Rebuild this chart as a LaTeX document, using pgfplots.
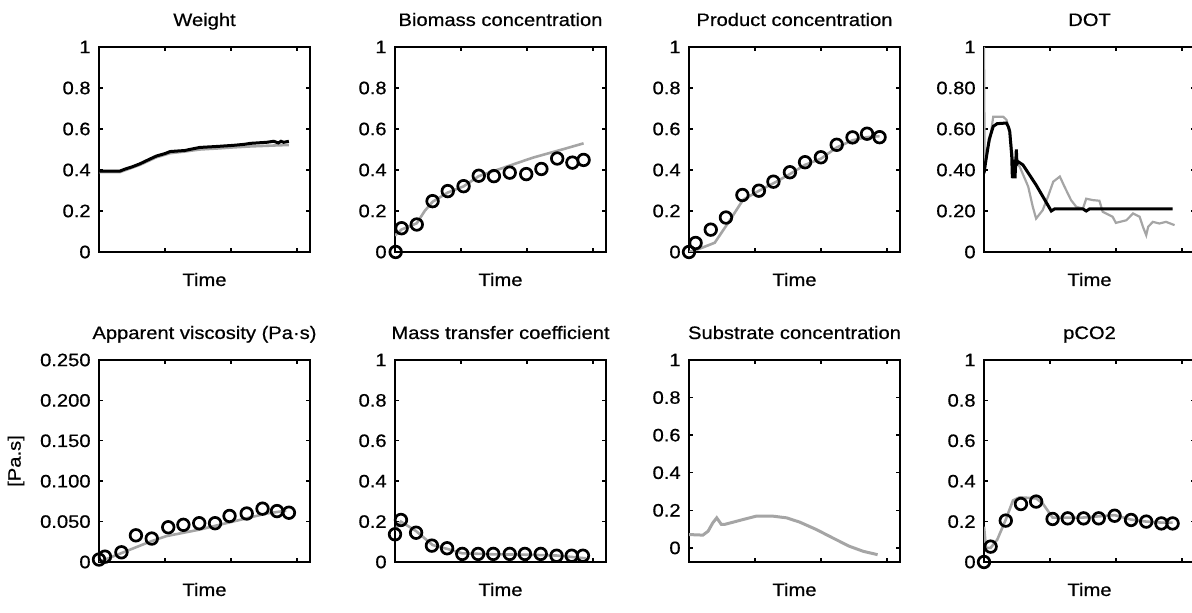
\documentclass[border=0pt]{standalone}
\usepackage{pgfplots}
\pgfplotsset{compat=1.18}
\usepackage{fontspec}
\setmainfont{Liberation Sans}[FakeStretch=1.12, FakeBold=0.6]
\definecolor{lg}{RGB}{165,165,165}
\pgfplotsset{
 base/.style={
  scale only axis, width=105.5pt,
  xmin=0, xmax=3.2, xtick={1,2,3}, xticklabels={},
  ymin=0, ymax=1, ytick={0,0.2,0.4,0.6,0.8,1}, yticklabels={0,0.2,0.4,0.6,0.8,1},
  tick align=inside, major tick length=2pt,
  axis line style={line width=0.9pt},
  every tick/.style={black, line width=0.7pt},
  tick label style={font=\fontsize{9}{10}\selectfont},
  title style={font=\fontsize{9}{10}\selectfont, at={(0.5,1)}, anchor=base, yshift=4.5pt, inner sep=0pt},
  xlabel=Time,
  label style={font=\fontsize{9}{10}\selectfont},
  xlabel style={at={(0.5,0)}, anchor=base, yshift=-17pt, inner sep=0pt},
  yticklabel style={inner sep=0pt, xshift=-4pt},
  clip mode=individual,
 },
 r1/.style={base, height=102.5pt},
 r2/.style={base, height=101pt},
 gline/.style={lg, line width=1.3pt, no markers},
 bline/.style={black, line width=1.5pt, no markers},
 mk/.style={only marks, mark=o, mark size=2.9pt, mark options={black, line width=1.35pt}},
}
\begin{document}
\begin{tikzpicture}
% ---------- Row 1 ----------
\begin{axis}[r1, at={(49.5pt,180.5pt)}, anchor=south west, title={Weight}]
\addplot[gline] coordinates {(0,0.39) (0.32,0.39) (0.45,0.405) (0.62,0.425) (0.87,0.462) (1.08,0.482) (1.3,0.49) (1.53,0.5) (1.8,0.505) (2.03,0.51) (2.3,0.515) (2.54,0.518) (2.7,0.52) (2.88,0.522)};
\addplot[bline] coordinates {(0,0.395) (0.32,0.395) (0.4,0.405) (0.5,0.415) (0.62,0.43) (0.75,0.45) (0.87,0.468) (1.0,0.48) (1.08,0.49) (1.3,0.495) (1.45,0.505) (1.53,0.51) (1.8,0.515) (2.03,0.52) (2.2,0.525) (2.3,0.53) (2.54,0.535) (2.65,0.54) (2.72,0.532) (2.76,0.54) (2.8,0.535) (2.88,0.54)};
\end{axis}
\begin{axis}[r1, at={(197.5pt,180.5pt)}, anchor=south west, title={Biomass concentration}]
\addplot[gline] coordinates {(0,0.08) (0.1,0.11) (0.33,0.14) (0.45,0.2) (0.57,0.245) (0.8,0.29) (1.04,0.32) (1.27,0.37) (1.59,0.405) (2.09,0.46) (2.59,0.505) (2.86,0.53)};
\addplot[mk] coordinates {(0.01,0) (0.10,0.116) (0.33,0.134) (0.57,0.248) (0.80,0.297) (1.04,0.321) (1.27,0.372) (1.50,0.370) (1.74,0.387) (1.99,0.380) (2.22,0.405) (2.46,0.456) (2.69,0.436) (2.86,0.449)};
\end{axis}
\begin{axis}[r1, at={(344.5pt,180.5pt)}, anchor=south west, title={Product concentration}]
\addplot[gline] coordinates {(0,0) (0.16,0.016) (0.39,0.045) (0.62,0.155) (0.82,0.255) (1.07,0.3) (1.28,0.335) (1.53,0.38) (1.76,0.425) (2.0,0.455) (2.24,0.51) (2.48,0.545) (2.7,0.56) (2.89,0.565)};
\addplot[mk] coordinates {(0,0) (0.10,0.044) (0.33,0.109) (0.56,0.168) (0.81,0.278) (1.06,0.299) (1.28,0.343) (1.53,0.389) (1.76,0.438) (2.00,0.462) (2.24,0.523) (2.48,0.559) (2.70,0.577) (2.89,0.560)};
\end{axis}
\begin{axis}[r1, at={(492pt,180.5pt)}, anchor=south west, title={DOT}, yticklabels={0,0.20,0.40,0.60,0.80,1}]
\addplot[gline, line width=1.1pt] coordinates {(0,1.0) (0.01,0.45) (0.03,0.48) (0.09,0.547) (0.14,0.66) (0.29,0.66) (0.34,0.645) (0.39,0.59) (0.44,0.45) (0.54,0.417) (0.67,0.319) (0.74,0.22) (0.79,0.163) (0.89,0.204) (0.97,0.27) (1.05,0.343) (1.15,0.368) (1.22,0.319) (1.32,0.253) (1.40,0.22) (1.50,0.212) (1.55,0.26) (1.65,0.253) (1.75,0.25) (1.80,0.196) (1.95,0.172) (2.0,0.142) (2.16,0.155) (2.26,0.188) (2.36,0.172) (2.41,0.123) (2.46,0.082) (2.49,0.123) (2.56,0.147) (2.66,0.139) (2.76,0.147) (2.89,0.131)};
\addplot[bline] coordinates {(0,0.384) (0.03,0.45) (0.08,0.55) (0.14,0.613) (0.2,0.626) (0.34,0.629) (0.37,0.61) (0.39,0.588) (0.42,0.47) (0.43,0.36) (0.45,0.45) (0.47,0.36) (0.49,0.50) (0.50,0.43) (0.52,0.44) (0.59,0.425) (0.79,0.327) (1.02,0.20) (1.07,0.21) (1.5,0.21) (1.55,0.20) (1.6,0.21) (2.86,0.21)};
\end{axis}
% ---------- Row 2 ----------
\begin{axis}[r2, at={(49.5pt,25.5pt)}, anchor=south west, title={Apparent viscosity (Pa·s)},
  ymax=0.25, ytick={0,0.05,0.1,0.15,0.2,0.25}, yticklabels={0,0.050,0.100,0.150,0.200,0.250},
  ylabel={[Pa.s]}, ylabel style={at={([xshift=-41.5pt]axis description cs:0,0.5)}, anchor=center, inner sep=0pt}]
\addplot[gline] coordinates {(0,0) (0.34,0.011) (0.77,0.025) (1.02,0.032) (1.52,0.040) (2.03,0.050) (2.54,0.060) (2.84,0.0635)};
\addplot[mk] coordinates {(0,0.003) (0.09,0.0066) (0.34,0.012) (0.56,0.033) (0.80,0.029) (1.05,0.043) (1.28,0.046) (1.52,0.048) (1.76,0.048) (1.98,0.057) (2.24,0.060) (2.48,0.066) (2.70,0.063) (2.88,0.061)};
\end{axis}
\begin{axis}[r2, at={(197.5pt,25.5pt)}, anchor=south west, title={Mass transfer coefficient}]
\addplot[gline] coordinates {(0,0.158) (0.09,0.2) (0.32,0.153) (0.57,0.084) (0.79,0.065) (1.02,0.043) (1.5,0.038) (2.0,0.036) (2.45,0.032) (2.9,0.018)};
\addplot[mk] coordinates {(0,0.137) (0.09,0.208) (0.32,0.145) (0.56,0.081) (0.79,0.068) (1.02,0.040) (1.26,0.040) (1.49,0.040) (1.74,0.040) (1.97,0.040) (2.21,0.040) (2.45,0.031) (2.68,0.031) (2.85,0.031)};
\end{axis}
\begin{axis}[r2, at={(344.5pt,25.5pt)}, anchor=south west, title={Substrate concentration}, ymin=-0.075]
\addplot[gline, line width=1.5pt] coordinates {(0,0.071) (0.21,0.068) (0.29,0.089) (0.36,0.133) (0.42,0.160) (0.49,0.125) (0.54,0.125) (0.67,0.137) (0.82,0.151) (1.02,0.169) (1.27,0.169) (1.48,0.160) (1.68,0.137) (1.93,0.098) (2.18,0.053) (2.43,0.009) (2.64,-0.018) (2.86,-0.036)};
\end{axis}
\begin{axis}[r2, at={(492pt,25.5pt)}, anchor=south west, title={pCO2}]
\addplot[gline] coordinates {(0,0.175) (0.03,0.07) (0.1,0.07) (0.2,0.11) (0.33,0.21) (0.44,0.305) (0.54,0.32) (0.79,0.315) (0.89,0.29) (1.04,0.22) (1.5,0.22) (1.98,0.232) (2.23,0.21) (2.46,0.2) (2.69,0.195) (2.86,0.195)};
\addplot[mk] coordinates {(0,0) (0.10,0.076) (0.33,0.205) (0.56,0.287) (0.79,0.299) (1.04,0.213) (1.27,0.216) (1.51,0.216) (1.74,0.216) (1.98,0.229) (2.23,0.208) (2.46,0.200) (2.69,0.191) (2.86,0.191)};
\end{axis}
\pgfresetboundingbox
\useasboundingbox (0,0) rectangle (596pt,306.5pt);
\end{tikzpicture}
\end{document}
